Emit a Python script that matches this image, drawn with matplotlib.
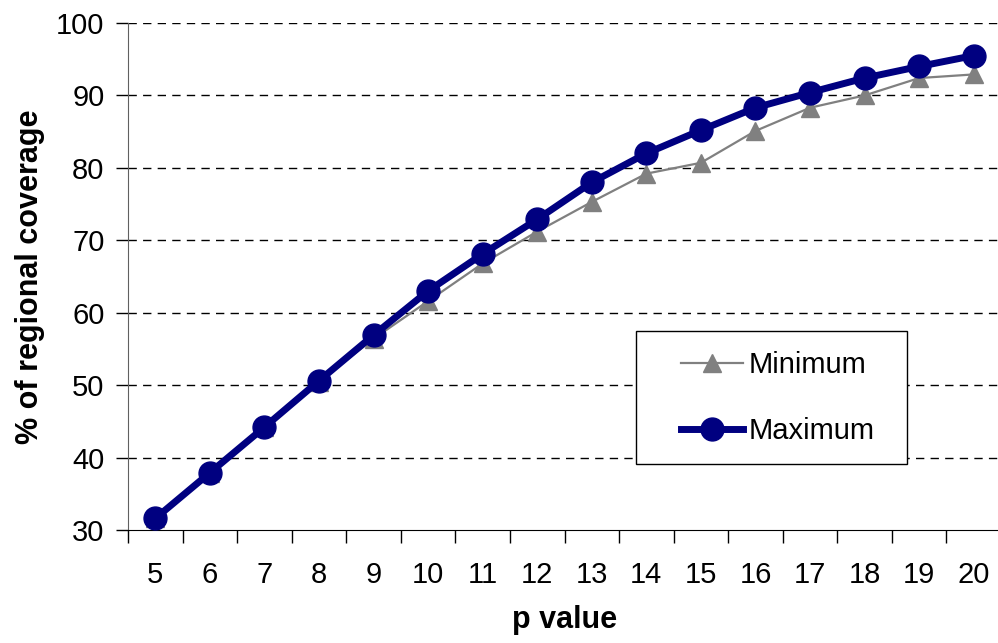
import matplotlib.pyplot as plt
import numpy as np
from matplotlib.patches import Rectangle

plt.rcParams['font.family'] = ['Liberation Sans', 'DejaVu Sans']

# p values on the category axis
p_values = [5, 6, 7, 8, 9, 10, 11, 12, 13, 14, 15, 16, 17, 18, 19, 20]
# % of regional coverage
minimum = [31.6, 37.9, 44.2, 50.5, 56.4, 61.6, 66.8, 71.2, 75.3, 79.2, 80.7, 85.1, 88.3, 90.0, 92.4, 92.9]
maximum = [31.6, 37.9, 44.2, 50.6, 56.9, 63.0, 68.1, 72.9, 78.0, 82.0, 85.2, 88.3, 90.4, 92.4, 94.0, 95.5]
y_ticks = [30, 40, 50, 60, 70, 80, 90, 100]

fig = plt.figure(figsize=(9.98, 6.43), dpi=100)
ax = fig.add_axes([128 / 998, 1 - 530 / 643, 873 / 998, 507 / 643])

x = np.arange(len(p_values))
ax.plot(x, minimum, color='#808080', lw=1.6, marker='^', markersize=13,
        label='Minimum', zorder=3)
ax.plot(x, maximum, color='#000080', lw=5, marker='o', markersize=16.5,
        label='Maximum', zorder=4)

ax.set_xlim(-0.5, len(p_values) - 0.5)
ax.set_ylim(30, 100)
ax.set_yticks(y_ticks)
ax.set_yticklabels([str(v) for v in y_ticks], fontsize=21)

# category labels centred, tick marks between categories
ax.set_xticks(x)
ax.set_xticklabels([str(p) for p in p_values], fontsize=21)
ax.tick_params(axis='x', which='major', length=0, pad=22)
ax.set_xticks(np.arange(-0.5, len(p_values), 1), minor=True)
ax.tick_params(axis='x', which='minor', length=9, width=1, direction='out')
ax.tick_params(axis='y', length=9, width=1, direction='out', pad=8)

for v in y_ticks[1:]:
    ax.axhline(v, color='black', lw=1, ls=(0, (6, 4.5)), zorder=1)

for s in ['top', 'right']:
    ax.spines[s].set_visible(False)
ax.spines['left'].set_color('#606060')
ax.spines['bottom'].set_color('black')

ax.set_xlabel('p value', fontsize=22, fontweight='bold', labelpad=12)
ax.set_ylabel('% of regional coverage', fontsize=22, fontweight='bold', labelpad=8)

# legend box drawn as its own frame
box = Rectangle((636 / 998, 1 - 464 / 643), 271 / 998, 133 / 643,
                transform=fig.transFigure, facecolor='white', edgecolor='black',
                lw=1, zorder=5)
fig.add_artist(box)
leg = fig.legend(loc='center', bbox_to_anchor=(778 / 998, 1 - 398 / 643),
                 frameon=False, fontsize=21, handlelength=2.1,
                 labelspacing=1.3, handletextpad=0.2, borderpad=0)
leg.set_zorder(6)

fig.savefig('out.png', dpi=100)
